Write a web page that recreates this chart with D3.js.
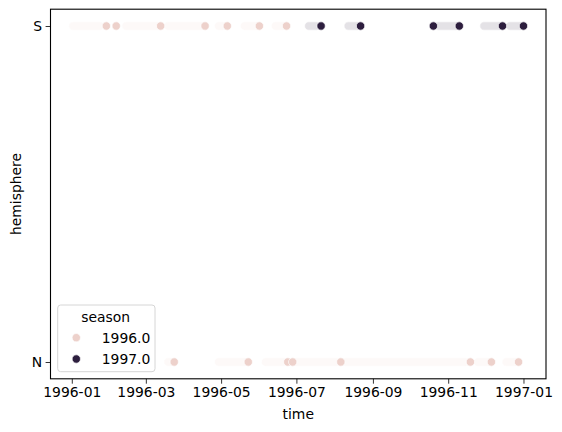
<!DOCTYPE html>
<html>
<head>
<meta charset="utf-8">
<script src="https://cdn.jsdelivr.net/npm/d3@7"></script>
<style>
  body { margin: 0; background: #fff; }
  text { font-family: "DejaVu Sans", sans-serif; }
</style>
</head>
<body>
<div class="chart"></div>
<script>
var svgWidth = 562;
var svgHeight = 432;

var margin = { top: 9.2, right: 16, bottom: 53.2, left: 50.5 };
var width = svgWidth - margin.left - margin.right;
var height = svgHeight - margin.top - margin.bottom;

// hemisphere categories, top to bottom
var hemispheres = ["S", "N"];
var seasons = [1996, 1997];

// dense stretches of observations (they overlap into a pale band)
var runHemisphere = ["S", "S", "S", "S", "S", "S", "S", "S", "S", "S", "S",
                     "N", "N", "N", "N", "N", "N", "N"];
var runStart = ["1996-01-02", "1996-02-14", "1996-03-19", "1996-04-29", "1996-05-20", "1996-06-14",
                "1996-07-11", "1996-08-12", "1996-10-24", "1996-11-30", "1996-12-21",
                "1996-03-19", "1996-04-29", "1996-06-06", "1996-07-01", "1996-08-10", "1996-11-25", "1996-12-18"];
var runEnd = ["1996-01-24", "1996-03-11", "1996-04-15", "1996-05-02", "1996-05-30", "1996-06-20",
              "1996-07-17", "1996-08-19", "1996-11-07", "1996-12-12", "1996-12-29",
              "1996-03-21", "1996-05-20", "1996-06-21", "1996-08-03", "1996-11-15", "1996-12-03", "1996-12-25"];
var runSeason = [1996, 1996, 1996, 1996, 1996, 1996, 1997, 1997, 1997, 1997, 1997,
                 1996, 1996, 1996, 1996, 1996, 1996, 1996];

// single visible observations
var pointHemisphere = ["S", "S", "S", "S", "S", "S", "S", "S", "S", "S", "S", "S", "S",
                       "N", "N", "N", "N", "N", "N", "N", "N"];
var pointTime = ["1996-01-29", "1996-02-06", "1996-03-13", "1996-04-18", "1996-05-06", "1996-06-01", "1996-06-23",
                 "1996-07-21", "1996-08-22", "1996-10-20", "1996-11-10", "1996-12-15", "1997-01-01",
                 "1996-03-24", "1996-05-23", "1996-06-24", "1996-06-28", "1996-08-06", "1996-11-19", "1996-12-06", "1996-12-28"];
var pointSeason = [1996, 1996, 1996, 1996, 1996, 1996, 1996,
                   1997, 1997, 1997, 1997, 1997, 1997,
                   1996, 1996, 1996, 1996, 1996, 1996, 1996, 1996];

var parseTime = d3.timeParse("%Y-%m-%d");

var runs = runStart.map(function (s, i) {
  return { hemisphere: runHemisphere[i], start: parseTime(s), end: parseTime(runEnd[i]), season: runSeason[i] };
});
var points = pointTime.map(function (t, i) {
  return { hemisphere: pointHemisphere[i], time: parseTime(t), season: pointSeason[i] };
});

// seaborn default cubehelix colormap
function cubehelix(x) {
  var a = 0.8 * x * (1 - x) / 2;
  var phi = 2 * Math.PI * (0.4 * x);
  var r = x + a * (-0.14861 * Math.cos(phi) + 1.78277 * Math.sin(phi));
  var g = x + a * (-0.29227 * Math.cos(phi) - 0.90649 * Math.sin(phi));
  var b = x + a * (1.97294 * Math.cos(phi));
  return d3.rgb(r * 255, g * 255, b * 255).formatHex();
}
var colorScale = d3.scaleLinear()
  .domain(d3.extent(seasons))
  .range([0.85, 0.15]);
function color(v) { return cubehelix(colorScale(v)); }
function pale(v) { return d3.interpolateRgb(color(v), "#fff")(0.87); }

var svg = d3.select(".chart")
  .append("svg")
  .attr("width", svgWidth)
  .attr("height", svgHeight);

var chartGroup = svg.append("g")
  .attr("transform", `translate(${margin.left}, ${margin.top})`);

// x domain padded 5% like matplotlib
var allTimes = runs.map(d => d.start).concat(runs.map(d => d.end), points.map(d => d.time));
var tExt = d3.extent(allTimes);
var pad = (tExt[1] - tExt[0]) * 0.05;
var xTimeScale = d3.scaleTime()
  .domain([new Date(+tExt[0] - pad), new Date(+tExt[1] + pad)])
  .range([0, width]);

var yPointScale = d3.scalePoint()
  .domain(hemispheres)
  .range([0, height])
  .padding(0.05);

var r = 4.17;

// pale bands
chartGroup.selectAll(".run")
  .data(runs)
  .enter()
  .append("rect")
  .attr("class", "run")
  .attr("x", d => xTimeScale(d.start) - r)
  .attr("y", d => yPointScale(d.hemisphere) - r)
  .attr("width", d => xTimeScale(d.end) - xTimeScale(d.start) + 2 * r)
  .attr("height", 2 * r)
  .attr("rx", r)
  .attr("fill", d => pale(d.season))
  .attr("stroke", "#fff")
  .attr("stroke-width", 0.67);

// points
chartGroup.selectAll(".dot")
  .data(points)
  .enter()
  .append("circle")
  .attr("class", "dot")
  .attr("cx", d => xTimeScale(d.time))
  .attr("cy", d => yPointScale(d.hemisphere))
  .attr("r", r)
  .attr("fill", d => color(d.season))
  .attr("stroke", "#fff")
  .attr("stroke-width", 0.67);

// axes
var xTicks = d3.timeMonth.every(2).range(new Date(1996, 0, 1), new Date(1997, 0, 2));
var bottomAxis = d3.axisBottom(xTimeScale)
  .tickValues(xTicks)
  .tickFormat(d3.timeFormat("%Y-%m"))
  .tickSize(4.9)
  .tickPadding(3.5)
  .tickSizeOuter(0);
var leftAxis = d3.axisLeft(yPointScale)
  .tickSize(4.9)
  .tickPadding(3.5)
  .tickSizeOuter(0);

var xAxis = chartGroup.append("g")
  .attr("transform", `translate(0,${height})`)
  .call(bottomAxis);
var yAxis = chartGroup.append("g")
  .call(leftAxis);

[xAxis, yAxis].forEach(function (ax) {
  ax.select(".domain").remove();
  ax.selectAll("line").attr("stroke", "#000").attr("stroke-width", 0.8);
  ax.selectAll("text").attr("fill", "#000").style("font-size", "13.9px").style("font-family", "DejaVu Sans");
});

// frame
chartGroup.append("rect")
  .attr("width", width)
  .attr("height", height)
  .attr("fill", "none")
  .attr("stroke", "#000")
  .attr("stroke-width", 1.1);

// axis labels
svg.append("text")
  .attr("x", margin.left + width / 2)
  .attr("y", 419)
  .attr("text-anchor", "middle")
  .style("font-size", "13.9px")
  .text("time");

svg.append("text")
  .attr("transform", `translate(21, ${margin.top + height / 2}) rotate(-90)`)
  .attr("text-anchor", "middle")
  .style("font-size", "13.9px")
  .text("hemisphere");

// legend
var legend = svg.append("g")
  .attr("transform", "translate(57.7, 305)");

legend.append("rect")
  .attr("width", 97.3)
  .attr("height", 66.7)
  .attr("rx", 3)
  .attr("fill", "#fff")
  .attr("fill-opacity", 0.8)
  .attr("stroke", "#d6d6d6")
  .attr("stroke-width", 1);

legend.append("text")
  .attr("x", 48)
  .attr("y", 17)
  .attr("text-anchor", "middle")
  .style("font-size", "13.9px")
  .text("season");

var entries = legend.selectAll(".entry")
  .data(seasons)
  .enter()
  .append("g")
  .attr("class", "entry")
  .attr("transform", (d, i) => `translate(0, ${32.7 + i * 21.3})`);

entries.append("circle")
  .attr("cx", 18.6)
  .attr("cy", 0)
  .attr("r", r)
  .attr("fill", d => color(d))
  .attr("stroke", "#fff")
  .attr("stroke-width", 0.67);

entries.append("text")
  .attr("x", 44)
  .attr("y", 5)
  .style("font-size", "13.9px")
  .text(d => d.toFixed(1));
</script>
</body>
</html>
